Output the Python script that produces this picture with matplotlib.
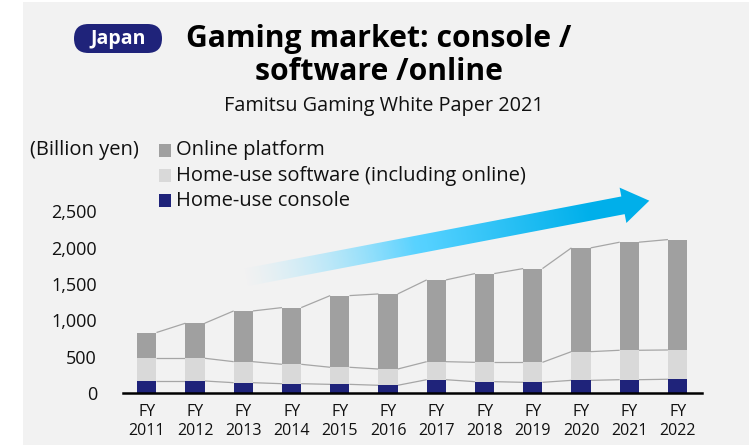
import numpy as np
import matplotlib
matplotlib.use("Agg")
import matplotlib.pyplot as plt
from matplotlib.patches import Rectangle, FancyBboxPatch, Polygon

plt.rcParams['font.family'] = ['Open Sans', 'DejaVu Sans']

# ---- data (billion yen) ----
years = ["2011", "2012", "2013", "2014", "2015", "2016",
         "2017", "2018", "2019", "2020", "2021", "2022"]
console = [165, 165, 142, 128, 119, 106, 183, 156, 147, 174, 183, 189]
software = [313, 313, 289, 267, 235, 224, 248, 266, 275, 395, 405, 403]
online = [354, 482, 698, 780, 986, 1033, 1125, 1221, 1290, 1428, 1487, 1519]
tick_values = [0, 500, 1000, 1500, 2000, 2500]

series_names = ["Home-use console", "Home-use software (including online)", "Online platform"]
series_colors = ["#1f237a", "#d9d9d9", "#a0a0a0"]

W, H = 751, 447
fig = plt.figure(figsize=(W / 100, H / 100), dpi=100)
fig.patch.set_facecolor("white")

# ---- decoration layer in pixel coordinates ----
bg = fig.add_axes([0, 0, 1, 1], zorder=0)
bg.set_xlim(0, W)
bg.set_ylim(H, 0)
bg.axis("off")

bg.add_patch(Rectangle((23, 2), 726, 443, facecolor="#f2f2f2", edgecolor="none"))

# "Japan" tag
bg.add_patch(FancyBboxPatch((74, 24), 88, 29,
                            boxstyle="round,pad=0,rounding_size=14.5",
                            facecolor="#1f237a", edgecolor="none"))
bg.text(118, 39, "Japan", color="white", fontsize=14, fontweight="bold",
        ha="center", va="center")

# titles
bg.text(379, 46.5, "Gaming market: console /", fontsize=21.7, fontweight="bold",
        ha="center", va="baseline", color="black")
bg.text(379, 80, "software /online", fontsize=21.7, fontweight="bold",
        ha="center", va="baseline", color="black")
bg.text(384, 106, "Famitsu Gaming White Paper 2021", fontsize=14.3,
        ha="center", va="center", color="#111111")

# unit label and legend
bg.text(30, 150, "(Billion yen)", fontsize=14.5, ha="left", va="center", color="#111111")
legend_rows = [(150, 2), (175.5, 1), (200.5, 0)]
for yc, idx in legend_rows:
    bg.add_patch(Rectangle((158.5, yc - 6.5), 12.5, 13, facecolor=series_colors[idx],
                           edgecolor="none"))
    bg.text(176, yc, series_names[idx], fontsize=14.5, ha="left", va="center",
            color="#111111")

# growth arrow with a fading gradient
tail = np.array([245.0, 277.5])
tip = np.array([649.3, 200.7])
base = np.array([623.0, 205.3])
u = (base - tail) / np.linalg.norm(base - tail)
n = np.array([-u[1], u[0]])
if n[1] < 0:
    n = -n
hw, hh = 9.0, 18.0
poly = [tail - hw * n, base - hw * n, base - hh * n, tip,
        base + hh * n, base + hw * n, tail + hw * n]
arrow_shape = Polygon(poly, closed=True, facecolor="none", edgecolor="none")
bg.add_patch(arrow_shape)

xx, yy = np.meshgrid(np.arange(W) + 0.5, np.arange(H) + 0.5)
L = np.dot(tip - tail, u)
t = np.clip(((xx - tail[0]) * u[0] + (yy - tail[1]) * u[1]) / L, 0, 1)
c0 = np.array([0.62, 0.90, 1.00])
c1 = np.array([0.33, 0.82, 1.00])
c2 = np.array([0.00, 0.69, 0.92])
k1 = np.clip(t / 0.45, 0, 1)[..., None]
k2 = np.clip((t - 0.45) / 0.4, 0, 1)[..., None]
rgb = c0 * (1 - k1) + c1 * k1
rgb = rgb * (1 - k2) + c2 * k2
alpha = np.clip(t / 0.42, 0, 1) ** 1.1
img = np.dstack([rgb, alpha])
im = bg.imshow(img, extent=(0, W, H, 0), interpolation="bilinear", zorder=2)
im.set_clip_path(arrow_shape)

# ---- chart ----
ax = fig.add_axes([122.7 / W, 1 - 393 / H, 579 / W, (393 - 211.3) / H], zorder=1)
ax.set_facecolor("none")
x = np.arange(len(years))
bw = 0.4
c = np.array(console)
s = np.array(software)
o = np.array(online)
ax.bar(x, c, width=bw, color=series_colors[0], edgecolor="none", zorder=3)
ax.bar(x, s, width=bw, bottom=c, color=series_colors[1], edgecolor="none", zorder=3)
ax.bar(x, o, width=bw, bottom=c + s, color=series_colors[2], edgecolor="none", zorder=3)

# connector lines between stacked bar levels
for level in (c, c + s, c + s + o):
    for i in range(len(x) - 1):
        ax.plot([x[i] + bw / 2, x[i + 1] - bw / 2], [level[i], level[i + 1]],
                color="#a6a6a6", lw=0.9, zorder=2, solid_capstyle="butt")

ax.set_xlim(-0.5, len(years) - 0.5)
ax.set_ylim(0, 2500)
ax.set_yticks(tick_values)
ax.set_yticklabels([f"{v:,}" for v in tick_values], fontsize=13, color="#111111")
ax.set_xticks(x)
ax.set_xticklabels([f"FY\n{y}" for y in years], fontsize=11.5, color="#111111",
                   linespacing=1.25)
ax.tick_params(axis="y", length=0, pad=18.5)
ax.tick_params(axis="x", length=0, pad=8)
for side in ("top", "right", "left"):
    ax.spines[side].set_visible(False)
ax.spines["bottom"].set_color("black")
ax.spines["bottom"].set_linewidth(1.8)
ax.spines["bottom"].set_zorder(4)

fig.savefig("out.png", dpi=100, facecolor=fig.get_facecolor())
